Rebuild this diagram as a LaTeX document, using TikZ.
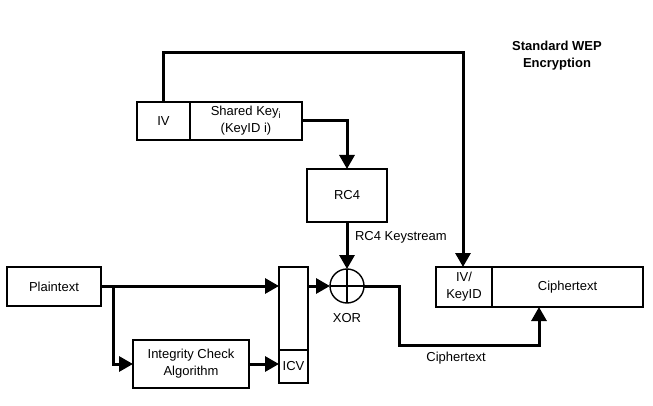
\documentclass[tikz,border=0pt]{standalone}
\usepackage{fontspec}
\setmainfont{Liberation Sans}
\usetikzlibrary{arrows.meta,calc}
\begin{document}
\begin{tikzpicture}[x=1pt,y=-1pt,
  every node/.style={font=\fontsize{13}{17}\selectfont, inner sep=0pt, outer sep=0pt},
  box/.style={draw, line width=1.4pt, anchor=north west, align=center},
  conn/.style={line width=3pt},
  arr/.style={conn, -{Triangle[length=14pt,width=15pt]}},
  lbl/.style={font=\fontsize{13}{17}\selectfont}]
\useasboundingbox (0,0) rectangle (653,406);
% boxes
\node[box, minimum width=53pt, minimum height=38pt] (iv) at (137,102) {IV};
\node[box, minimum width=112pt, minimum height=38pt] (sk) at (190,102) {Shared Key\textsubscript{i}\\(KeyID i)};
\node[box, minimum width=80pt, minimum height=53pt] (rc4) at (307,169) {RC4};
\node[draw, line width=1.4pt, circle, minimum size=34pt] (xor) at (347,286) {};
\draw[line width=1.2pt] (xor.north) -- (xor.south) (xor.west) -- (xor.east);
\node[box, minimum width=56pt, minimum height=40pt] (ivk) at (436,267) {IV/\\KeyID};
\node[box, minimum width=151pt, minimum height=40pt] (ct) at (492,267) {Ciphertext};
\node[box, minimum width=94pt, minimum height=39pt] (pt) at (7,267) {Plaintext};
\node[box, minimum width=116pt, minimum height=48pt] (ica) at (133,340) {Integrity Check\\Algorithm};
\node[box, minimum width=29pt, minimum height=83pt] (st) at (279,267) {};
\node[box, minimum width=29pt, minimum height=33pt] (icv) at (279,350) {ICV};
% labels
\node[lbl, anchor=west] (ksl) at (355,237) {RC4 Keystream};
\node[lbl] (xorl) at (347,318) {XOR};
\node[lbl] (ctl) at (456,358) {Ciphertext};
\node[lbl, font=\fontsize{13}{17}\selectfont\bfseries, align=center] (title) at (557,56) {Standard WEP\\Encryption};
% connectors
\coordinate (tr) at (463,53);
\draw[arr] (iv.north) |- (tr) -- (ivk.north -| tr);
\draw[arr] (sk.east) -| (rc4.north);
\draw[arr] (rc4.south) -- (xor.north);
\coordinate (br) at (113,286);
\draw[arr] (pt.east |- br) -- (br -| st.west);
\draw[arr] (br) |- (ica.west);
\draw[arr] (ica.east) -- (ica.east -| icv.west);
\draw[arr] (br -| st.east) -- (xor.west);
\coordinate (bend) at (399,345);
\coordinate (cin) at (539,307);
\draw[arr] (xor.east) -| (bend) -| (cin);
\end{tikzpicture}
\end{document}
